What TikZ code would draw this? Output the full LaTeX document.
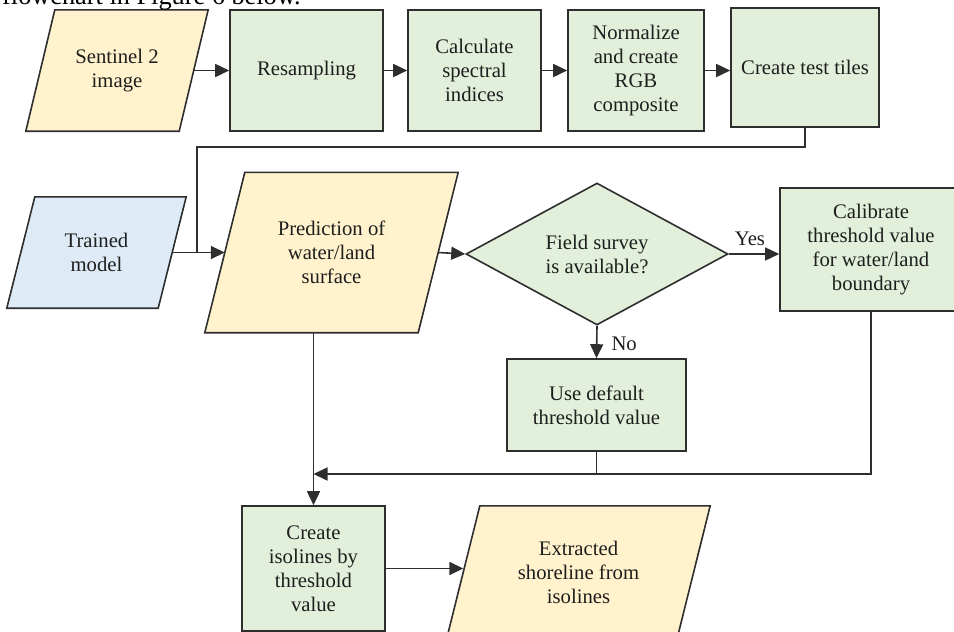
\documentclass[tikz,border=0pt]{standalone}
\usepackage{fontspec}
\setmainfont{Liberation Serif}
\usetikzlibrary{shapes.geometric,arrows.meta,calc,backgrounds}
\definecolor{linec}{HTML}{2E2E2E}
\definecolor{textc}{HTML}{1E1E1E}
\definecolor{greenc}{HTML}{E2EFDA}
\definecolor{yellowc}{HTML}{FFF2CC}
\definecolor{bluec}{HTML}{DEEBF7}
\newcommand{\paraback}[3]{%
  \filldraw[fill=#3, draw=linec, line width=1.6pt, line join=miter]
    ($(#1.north west)+(#2,0)$) -- ($(#1.north east)+(#2,0)$) --
    ($(#1.south east)-(#2,0)$) -- ($(#1.south west)-(#2,0)$) -- cycle;}
\tikzset{
  boxfont/.style={font=\fontsize{20.7}{24}\selectfont, text=textc},
  stepbox/.style={boxfont, draw=linec, fill=greenc, line width=1.6pt, align=center, inner sep=2pt},
  paratext/.style={boxfont, draw=none, align=center, inner sep=0pt},
  decide/.style={boxfont, diamond, draw=linec, fill=greenc, line width=1.6pt, align=center, inner sep=0pt},
  arr/.style={draw=linec, line width=1.6pt, -{Triangle[length=14pt,width=13pt]}},
  conn/.style={draw=linec, line width=1.6pt},
  lbl/.style={boxfont, inner sep=0pt}
}
\begin{document}
\begin{tikzpicture}[x=1pt,y=-1pt]
\useasboundingbox (0,0) rectangle (954,632);
\clip (0,0) rectangle (954,632);
% clipped line of text above the figure
\node[anchor=base west, inner sep=0pt, font=\fontsize{26.3}{30}\selectfont, text=black] (caption) at (2,4) {flowchart in Figure 6 below.};
% row 1
\node[paratext, minimum width=153, minimum height=121] (sent) at (117,70.5) {Sentinel 2\\image};
\node[stepbox, minimum width=153, minimum height=121] (resamp) at (306.5,70.5) {Resampling};
\node[stepbox, minimum width=133, minimum height=121] (calc) at (474.5,70.5) {Calculate\\spectral\\indices};
\node[stepbox, minimum width=136, minimum height=121] (norm) at (636,70.5) {Normalize\\and create\\RGB\\composite};
\node[stepbox, minimum width=148, minimum height=119] (tiles) at (805,67.5) {Create test tiles};
% row 2
\node[paratext, minimum width=151, minimum height=111] (trained) at (96.5,252.5) {Trained\\model};
\node[paratext, minimum width=213, minimum height=160] (pred) at (331.5,252.5) {Prediction of\\water/land\\surface};
\node[decide, minimum width=262, minimum height=142] (field) at (597,254) {Field survey\\is available?};
\node[stepbox, minimum width=182, minimum height=123] (calib) at (871,249.5) {Calibrate\\threshold value\\for water/land\\boundary};
\node[stepbox, minimum width=179, minimum height=92] (usedef) at (596.5,405) {Use default\\threshold value};
% row 3
\node[stepbox, minimum width=143, minimum height=125] (iso) at (313.5,568.5) {Create\\isolines by\\threshold\\value};
\node[paratext, minimum width=230, minimum height=132] (extr) at (578.5,572) {Extracted\\shoreline from\\isolines};
\begin{scope}[on background layer]
  \paraback{sent}{14.5}{yellowc}
  \paraback{trained}{14}{bluec}
  \paraback{pred}{20}{yellowc}
  \paraback{extr}{16.5}{yellowc}
\end{scope}
% helper coordinates
\coordinate (bend) at (197,147);
\coordinate (join) at (197,252.5);
\coordinate (mrg) at (313.5,474);
% connectors
\draw[arr] (sent.east) -- (resamp.west);
\draw[arr] (resamp.east) -- (calc.west);
\draw[arr] (calc.east) -- (norm.west);
\draw[arr] (norm.east) -- (norm.east -| tiles.west);
\draw[conn] (tiles.south) |- (bend) -- (join);
\draw[arr] (trained.east) -- (pred.west);
\draw[arr] (pred.east) -- (field.west);
\draw[arr] (field.east) -- (field.east -| calib.west) node[lbl, pos=0.42, above=8pt] (yes) {Yes};
\draw[arr] (field.south) -- (usedef.north) node[lbl, pos=0.55, right=14pt] (no) {No};
\draw[arr] (calib.south) |- (mrg);
\draw[conn] (usedef.south) -- (usedef.south |- mrg);
\draw[arr] (iso.north |- pred.south) -- (iso.north);
\draw[arr] (iso.east) -- (iso.east -| extr.west);
\end{tikzpicture}
\end{document}
